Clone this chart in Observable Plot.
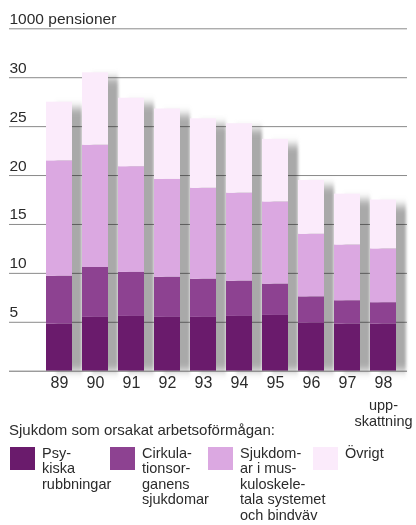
<!DOCTYPE html>
<html>
<head>
<meta charset="utf-8">
<script src="https://cdn.jsdelivr.net/npm/d3@7"></script>
<script src="https://cdn.jsdelivr.net/npm/@observablehq/plot@0.6"></script>
<style>
  html, body { margin: 0; padding: 0; background: #fff; }
  body { width: 416px; height: 525px; position: relative; overflow: hidden;
         font-family: "Liberation Sans", Arial, sans-serif; color: #2b2b2b; }
  #chart svg { display: block; }
  #legend-title { position: absolute; left: 9px; top: 421px; font-size: 15px; }
  .item { position: absolute; top: 447px; }
  .sw { position: absolute; left: 0; top: 0; width: 25px; height: 23px; }
  .lab { position: absolute; left: 32px; top: -1px; font-size: 14.5px; line-height: 15.4px; white-space: nowrap; }
</style>
</head>
<body>
<div id="chart"></div>
<div id="legend-title"></div>
<div id="legend"></div>
<script>
// ---- data ----
const years = ["89","90","91","92","93","94","95","96","97","98"];
const series = ["Psykiska rubbningar","Cirkulationsorganens sjukdomar","Sjukdomar i muskuloskeletala systemet och bindväv","Övrigt"];
const psykiska     = [4.8, 5.5, 5.6, 5.5, 5.5, 5.6, 5.7, 4.9, 4.8, 4.8];
const cirkulation  = [4.9, 5.1, 4.5, 4.1, 3.9, 3.6, 3.2, 2.7, 2.4, 2.2];
const muskuloskel  = [11.8, 12.5, 10.8, 10.0, 9.3, 9.0, 8.4, 6.4, 5.7, 5.5];
const ovrigt       = [6.0, 7.4, 7.0, 7.2, 7.1, 7.1, 6.4, 5.5, 5.2, 5.0];
const yTicks = [5, 10, 15, 20, 25, 30, 35];
const yTickLabels = ["5", "10", "15", "20", "25", "30", "1000 pensioner"];
const note98 = "upp-\nskattning";
const legendTitle = "Sjukdom som orsakat arbetsoförmågan:";
const legendLabels = ["Psy-\nkiska\nrubbningar", "Cirkula-\ntionsor-\nganens\nsjukdomar", "Sjukdom-\nar i mus-\nkuloskele-\ntala systemet\noch bindväv", "Övrigt"];
const colors = ["#6a1b6c", "#8d4291", "#dba8e1", "#fbebfb"];

const valuesBySeries = [psykiska, cirkulation, muskuloskel, ovrigt];
const table = [];
series.forEach((s, i) => years.forEach((y, j) => table.push({year: y, series: s, value: valuesBySeries[i][j]})));

const plot = Plot.plot({
  width: 416,
  height: 430,
  marginTop: 28.3,
  marginBottom: 59.3,
  marginLeft: 9,
  marginRight: 9,
  x: {type: "band", domain: years, paddingInner: 0.284, paddingOuter: 0.6225, align: 0.759, axis: null},
  y: {domain: [0, 35], axis: null},
  color: {domain: series, range: colors},
  style: {fontFamily: "Liberation Sans, Arial, sans-serif", color: "#2b2b2b", background: "#fff"},
  marks: [
    // drop shadow
    Plot.barY(table, Plot.groupX({y: "sum"}, {x: "year", y: "value", fill: "#a9a9a9", dx: 10, insetTop: 6, ariaDescription: "shadow"})),
    // grid
    Plot.ruleY(yTicks, {stroke: "#8a8a8a", strokeWidth: 1, mixBlendMode: "multiply"}),
    Plot.text(yTicks, {y: d => d, text: (d, i) => yTickLabels[i], frameAnchor: "left", textAnchor: "start", dy: -10, fontSize: 15.5, fill: "#2b2b2b"}),
    // bars
    Plot.barY(table, {x: "year", y: "value", fill: "series", order: series}),
    Plot.ruleY([0], {stroke: "#6e6e6e", strokeWidth: 1}),
    // x labels
    Plot.text(years, {x: d => d, text: d => d, frameAnchor: "bottom", dy: 17, fontSize: 16, fill: "#2b2b2b"}),
    Plot.text(["98"], {x: d => d, text: () => note98, frameAnchor: "bottom", dy: 27.5, lineAnchor: "top", lineHeight: 1.1, fontSize: 14.5, fill: "#2b2b2b"})
  ]
});

// blur for the shadow
const ns = "http://www.w3.org/2000/svg";
const defs = document.createElementNS(ns, "defs");
defs.innerHTML = '<filter id="shblur" x="-50%" y="-20%" width="200%" height="140%"><feGaussianBlur stdDeviation="1.5 4"/></filter>';
plot.insertBefore(defs, plot.firstChild);
const sh = plot.querySelector('[aria-description="shadow"]');
if (sh) sh.setAttribute("filter", "url(#shblur)");

document.getElementById("chart").appendChild(plot);

// legend
document.getElementById("legend-title").textContent = legendTitle;
const lx = [10, 110, 208, 313];
const leg = document.getElementById("legend");
series.forEach((s, i) => {
  const it = document.createElement("div");
  it.className = "item";
  it.style.left = lx[i] + "px";
  const sw = document.createElement("div");
  sw.className = "sw";
  sw.style.background = colors[i];
  const lab = document.createElement("div");
  lab.className = "lab";
  lab.innerHTML = legendLabels[i].split("\n").join("<br>");
  it.appendChild(sw); it.appendChild(lab);
  leg.appendChild(it);
});
</script>
</body>
</html>
